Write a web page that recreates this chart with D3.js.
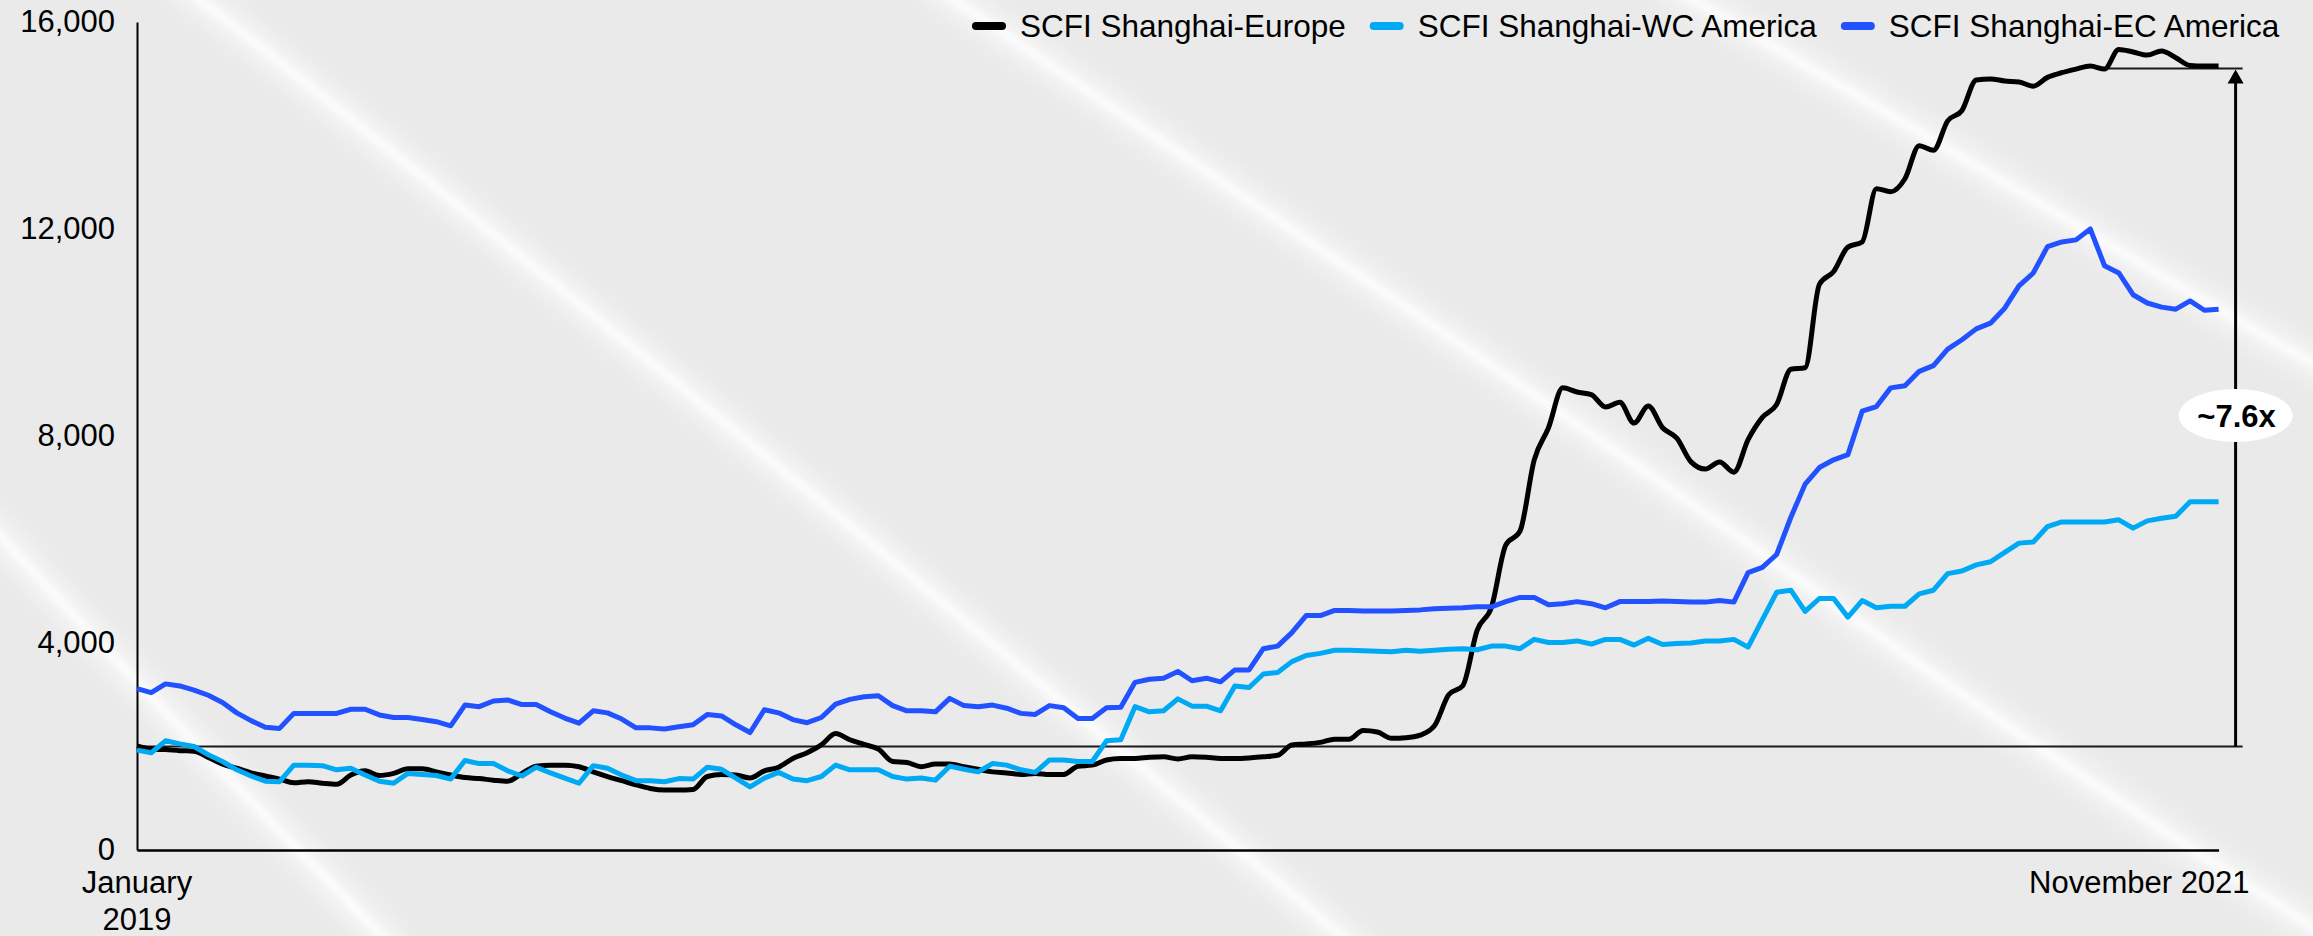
<!DOCTYPE html>
<html lang="en">
<head>
<meta charset="UTF-8">
<title>SCFI spot rates</title>
<script src="https://d3js.org/d3.v7.min.js"></script>
<style>
  html, body { margin: 0; padding: 0; background: #ebebeb; }
  svg { display: block; font-family: "Liberation Sans", Arial, sans-serif; }
</style>
</head>
<body>
<svg width="2313" height="936"></svg>
<script>
// weekly SCFI rates (USD / FEU), Jan 2019 -> Nov 2021
const europe = [
  2010,1950,1940,1920,1910,1790,1660,1580,1490,1430,
  1370,1300,1320,1290,1270,1450,1530,1440,1480,1570,
  1570,1510,1450,1400,1380,1350,1330,1480,1620,1640,
  1640,1610,1510,1420,1340,1260,1190,1160,1160,1170,
  1420,1460,1450,1390,1530,1600,1770,1880,2030,2250,
  2130,2040,1950,1710,1690,1610,1660,1660,1610,1560,
  1510,1490,1460,1480,1460,1460,1620,1640,1740,1770,
  1770,1790,1800,1760,1800,1790,1770,1770,1780,1800,
  1830,2030,2050,2080,2140,2140,2310,2280,2160,2170,
  2220,2400,3000,3180,4250,4690,5890,6160,7540,8160,
  8930,8850,8800,8560,8650,8250,8580,8160,7960,7500,
  7360,7500,7300,7930,8360,8610,9290,9320,10930,11180,
  11650,11750,12780,12720,12970,13610,13520,14090,14290,14880,
  14900,14860,14840,14760,14930,15020,15090,15150,15090,15470,
  15420,15360,15440,15310,15160,15150,15150
];
const wcAmerica = [
  1930,1880,2110,2050,2000,1840,1710,1550,1430,1330,
  1320,1640,1640,1630,1550,1580,1450,1330,1290,1480,
  1460,1440,1370,1730,1670,1670,1530,1430,1600,1490,
  1390,1290,1630,1580,1450,1340,1340,1320,1380,1370,
  1600,1560,1390,1220,1390,1500,1370,1340,1420,1640,
  1550,1550,1550,1420,1370,1390,1350,1620,1560,1510,
  1670,1640,1550,1500,1740,1740,1710,1710,2110,2130,
  2770,2670,2690,2920,2780,2780,2690,3170,3140,3400,
  3430,3640,3760,3800,3860,3860,3850,3840,3830,3860,
  3840,3860,3880,3890,3870,3940,3940,3890,4070,4010,
  4010,4040,3980,4070,4070,3960,4090,3970,3990,4000,
  4040,4040,4070,3920,4450,4980,5020,4610,4860,4860,
  4500,4820,4680,4710,4710,4950,5020,5340,5390,5510,
  5570,5750,5930,5950,6250,6340,6340,6340,6340,6380,
  6220,6360,6410,6450,6730,6730,6730
];
const ecAmerica = [
  3120,3040,3210,3170,3090,2990,2850,2650,2500,2370,
  2350,2640,2640,2640,2640,2720,2720,2610,2560,2560,
  2520,2480,2400,2800,2770,2880,2900,2810,2810,2670,
  2550,2450,2690,2650,2530,2360,2360,2340,2380,2420,
  2620,2590,2420,2270,2710,2650,2520,2460,2560,2820,
  2910,2960,2980,2790,2690,2690,2670,2930,2790,2770,
  2800,2740,2640,2620,2790,2750,2540,2540,2750,2760,
  3240,3300,3320,3450,3270,3320,3250,3480,3480,3890,
  3940,4200,4530,4530,4630,4630,4620,4620,4620,4630,
  4640,4660,4670,4680,4700,4700,4800,4880,4880,4740,
  4760,4800,4760,4680,4800,4800,4800,4810,4800,4790,
  4790,4820,4790,5360,5460,5710,6430,7070,7390,7540,
  7640,8480,8570,8930,8970,9250,9360,9680,9860,10070,
  10180,10470,10900,11150,11660,11750,11790,12000,11290,11150,
  10730,10570,10490,10450,10610,10430,10450
];

const seriesNames = ['SCFI Shanghai-Europe', 'SCFI Shanghai-WC America', 'SCFI Shanghai-EC America'];
const seriesColors = ['#000000', '#00a9f4', '#2251ff'];
const yTicks = [0, 4000, 8000, 12000, 16000];
const xLabels = ['January 2019', 'November 2021'];
const baseline = 2000;      // early-2019 level
const latest = 15100;       // Europe rate at the end
const multipleLabel = '~7.6x';

// light glare streaks across the backdrop (decoration only)
const glare = [
  [[175, -20], [400, 157], [893, 560], [1172, 793], [1370, 960]],
  [[925, -20], [1170, 147], [1692, 501], [2000, 725], [2340, 945]],
  [[1660, -20], [1900, 120], [2250, 329], [2340, 378]],
  [[-20, 515], [143, 690], [405, 960]]
];

const W = 2313, H = 936;
const svg = d3.select('svg');

svg.append('rect').attr('width', W).attr('height', H).attr('fill', '#eaeaea');

const defs = svg.append('defs');
defs.append('filter').attr('id', 'soft').attr('x', '-20%').attr('y', '-20%')
    .attr('width', '140%').attr('height', '140%')
  .append('feGaussianBlur').attr('stdDeviation', 10);
defs.append('filter').attr('id', 'core').attr('x', '-20%').attr('y', '-20%')
    .attr('width', '140%').attr('height', '140%')
  .append('feGaussianBlur').attr('stdDeviation', 3.5);

const glareLine = d3.line().curve(d3.curveBasis);
const gl = svg.append('g');
gl.selectAll('.halo').data(glare).enter().append('path')
    .attr('d', glareLine).attr('fill', 'none')
    .attr('stroke', '#fff').attr('stroke-width', 34).attr('opacity', 0.45)
    .attr('filter', 'url(#soft)');
gl.selectAll('.core').data(glare).enter().append('path')
    .attr('d', glareLine).attr('fill', 'none')
    .attr('stroke', '#fff').attr('stroke-width', 9).attr('opacity', 0.8)
    .attr('filter', 'url(#core)');

// scales
const n = europe.length;
const x = d3.scaleLinear().domain([0, n - 1]).range([137, 2218.6]);
const y = d3.scaleLinear().domain([0, 16000]).range([850, 22]);

// y axis
const yAxis = svg.append('g')
    .attr('transform', `translate(${x(0)},0)`)
    .call(d3.axisLeft(y).tickValues(yTicks).tickSize(0).tickSizeOuter(0)
      .tickPadding(22).tickFormat(d3.format(',')));
yAxis.attr('font-family', null).attr('font-size', null);
yAxis.select('.domain').attr('stroke', '#000').attr('stroke-width', 2);
yAxis.selectAll('text').attr('font-size', 31).attr('fill', '#000');

// x axis
const xAxis = svg.append('g')
    .attr('transform', `translate(0,${y(0)})`)
    .call(d3.axisBottom(x).tickValues([]).tickSizeOuter(0));
xAxis.select('.domain').attr('stroke', '#000').attr('stroke-width', 2.6);

const first = xLabels[0].split(' ');
const lab = svg.append('text')
    .attr('x', x(0)).attr('y', 893)
    .attr('text-anchor', 'middle').attr('font-size', 31);
lab.append('tspan').attr('x', x(0)).text(first[0]);
lab.append('tspan').attr('x', x(0)).attr('dy', 37).text(first[1]);
svg.append('text')
    .attr('x', x(n - 1) + 31).attr('y', 893)
    .attr('text-anchor', 'end').attr('font-size', 31)
    .text(xLabels[1]);

// reference lines
const arrowX = x(n - 1) + 17;
svg.append('line')
    .attr('x1', x(0)).attr('x2', x(n - 1) + 24)
    .attr('y1', y(baseline)).attr('y2', y(baseline))
    .attr('stroke', '#1a1a1a').attr('stroke-width', 2);
svg.append('line')
    .attr('x1', x(n - 9)).attr('x2', x(n - 1) + 24)
    .attr('y1', y(latest)).attr('y2', y(latest))
    .attr('stroke', '#1a1a1a').attr('stroke-width', 2);

// series
const series = [europe, wcAmerica, ecAmerica];
const linePlain = d3.line().x((d, i) => x(i)).y(d => y(d));
const lineSmooth = d3.line().x((d, i) => x(i)).y(d => y(d)).curve(d3.curveMonotoneX);

svg.append('g').selectAll('path')
  .data(series)
  .enter().append('path')
    .attr('fill', 'none')
    .attr('stroke', (d, i) => seriesColors[i])
    .attr('stroke-width', 5)
    .attr('stroke-linejoin', 'round')
    .attr('d', (d, i) => i === 0 ? lineSmooth(d) : linePlain(d));

// growth arrow
svg.append('line')
    .attr('x1', arrowX).attr('x2', arrowX)
    .attr('y1', y(baseline)).attr('y2', y(latest) + 12)
    .attr('stroke', '#000').attr('stroke-width', 3);
svg.append('path')
    .attr('d', `M${arrowX},${y(latest) + 1}L${arrowX + 8},${y(latest) + 15}L${arrowX - 8},${y(latest) + 15}Z`)
    .attr('fill', '#000');

const midY = (y(baseline) + y(latest)) / 2 + 8;
svg.append('ellipse')
    .attr('cx', arrowX).attr('cy', midY)
    .attr('rx', 57).attr('ry', 26.5)
    .attr('fill', '#fff');
svg.append('text')
    .attr('x', arrowX + 1).attr('y', midY).attr('dy', '0.36em')
    .attr('text-anchor', 'middle')
    .attr('font-size', 31).attr('font-weight', 'bold')
    .text(multipleLabel);

// legend
const legend = svg.append('g');
let lx = 972;
seriesNames.forEach((name, i) => {
  legend.append('line')
      .attr('x1', lx + 4).attr('x2', lx + 30)
      .attr('y1', 26).attr('y2', 26)
      .attr('stroke', seriesColors[i]).attr('stroke-width', 8)
      .attr('stroke-linecap', 'round');
  const t = legend.append('text')
      .attr('x', lx + 48).attr('y', 37)
      .attr('font-size', 31.5).attr('fill', '#000')
      .text(name);
  lx += 48 + t.node().getComputedTextLength() + 24;
});
</script>
</body>
</html>
